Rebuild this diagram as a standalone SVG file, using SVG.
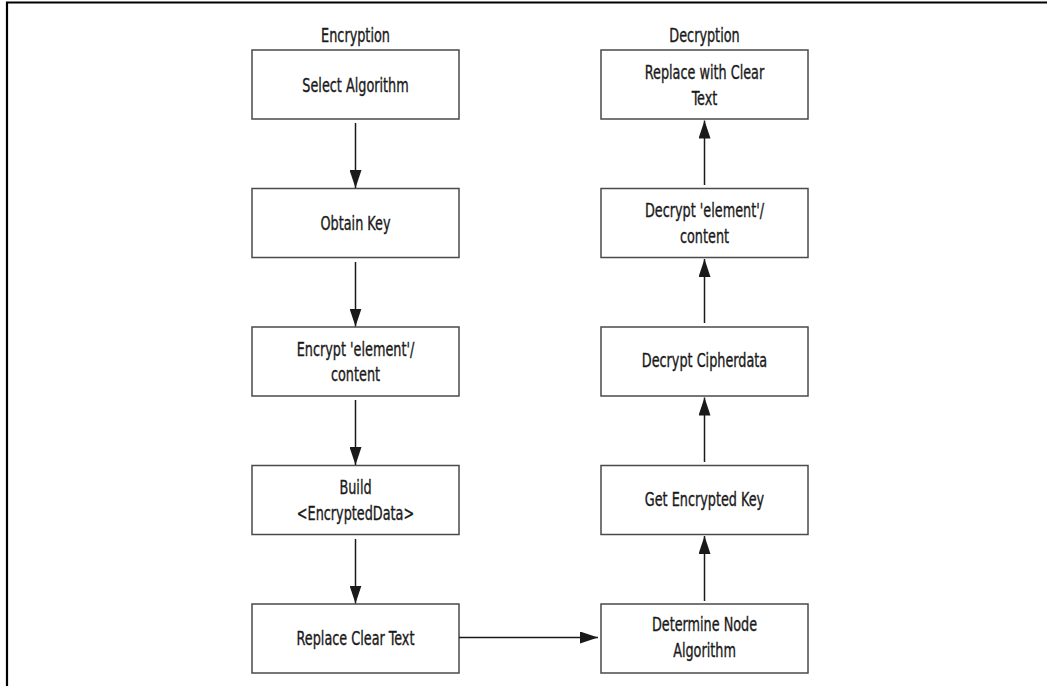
<svg xmlns="http://www.w3.org/2000/svg" width="1047" height="686" viewBox="0 0 1047 686">
  <style>
    .box { fill: #ffffff; stroke: #4a4a4a; stroke-width: 1.5; }
    .lbl { font-family: "DejaVu Sans Condensed", "Liberation Sans Narrow", "Liberation Sans", sans-serif; font-size: 19px; fill: #1a1a1a; text-anchor: middle; stroke: #1a1a1a; stroke-width: 0.35; }
    .edge { stroke: #1a1a1a; stroke-width: 1.5; fill: none; marker-end: url(#arrow); }
    .frame { stroke: #000000; stroke-width: 2.2; fill: none; }
  </style>
  <defs>
    <marker id="arrow" viewBox="0 0 18 12" refX="18" refY="6" markerWidth="18" markerHeight="12" markerUnits="userSpaceOnUse" orient="auto">
      <path d="M0,0 L18,6 L0,12 Z" fill="#1a1a1a"/>
    </marker>
  </defs>

  <!-- outer frame: top and left rules -->
  <path class="frame" d="M7,686 V2.5 H1047"/>

  <!-- column headings (labels are narrowed horizontally for a condensed face) -->
  <text class="lbl" transform="translate(355.5 41.5) scale(0.75 1)">Encryption</text>
  <text class="lbl" transform="translate(704.5 41.5) scale(0.75 1)">Decryption</text>

  <!-- encryption column -->
  <g id="select-algorithm">
    <rect class="box" x="252" y="50" width="207" height="69"/>
    <text class="lbl" transform="translate(355.5 91.5) scale(0.75 1)">Select Algorithm</text>
  </g>
  <g id="obtain-key">
    <rect class="box" x="252" y="188.5" width="207" height="69"/>
    <text class="lbl" transform="translate(355.5 230) scale(0.75 1)">Obtain Key</text>
  </g>
  <g id="encrypt-element">
    <rect class="box" x="252" y="327" width="207" height="69"/>
    <text class="lbl" transform="translate(355.5 356) scale(0.75 1)">Encrypt 'element'/</text>
    <text class="lbl" transform="translate(355.5 381) scale(0.75 1)">content</text>
  </g>
  <g id="build-encrypted-data">
    <rect class="box" x="252" y="465.5" width="207" height="69"/>
    <text class="lbl" transform="translate(355.5 493.5) scale(0.75 1)">Build</text>
    <text class="lbl" transform="translate(355.5 519.5) scale(0.75 1)">&lt;EncryptedData&gt;</text>
  </g>
  <g id="replace-clear-text">
    <rect class="box" x="252" y="604" width="207" height="69"/>
    <text class="lbl" transform="translate(355.5 645) scale(0.75 1)">Replace Clear Text</text>
  </g>

  <!-- decryption column -->
  <g id="replace-with-clear-text">
    <rect class="box" x="601" y="50" width="207" height="69"/>
    <text class="lbl" transform="translate(704.5 79) scale(0.75 1)">Replace with Clear</text>
    <text class="lbl" transform="translate(704.5 105) scale(0.75 1)">Text</text>
  </g>
  <g id="decrypt-element">
    <rect class="box" x="601" y="188.5" width="207" height="69"/>
    <text class="lbl" transform="translate(704.5 217) scale(0.75 1)">Decrypt 'element'/</text>
    <text class="lbl" transform="translate(704.5 243) scale(0.75 1)">content</text>
  </g>
  <g id="decrypt-cipherdata">
    <rect class="box" x="601" y="327" width="207" height="69"/>
    <text class="lbl" transform="translate(704.5 367) scale(0.75 1)">Decrypt Cipherdata</text>
  </g>
  <g id="get-encrypted-key">
    <rect class="box" x="601" y="465.5" width="207" height="69"/>
    <text class="lbl" transform="translate(704.5 506) scale(0.75 1)">Get Encrypted Key</text>
  </g>
  <g id="determine-node-algorithm">
    <rect class="box" x="601" y="604" width="207" height="69"/>
    <text class="lbl" transform="translate(704.5 631) scale(0.75 1)">Determine Node</text>
    <text class="lbl" transform="translate(704.5 657) scale(0.75 1)">Algorithm</text>
  </g>

  <!-- connectors -->
  <g id="connectors">
    <line class="edge" x1="355.5" y1="123" x2="355.5" y2="188"/>
    <line class="edge" x1="355.5" y1="262" x2="355.5" y2="326.5"/>
    <line class="edge" x1="355.5" y1="400" x2="355.5" y2="465"/>
    <line class="edge" x1="355.5" y1="539" x2="355.5" y2="603.5"/>
    <line class="edge" x1="459" y1="637.5" x2="598" y2="637.5"/>
    <line class="edge" x1="704.5" y1="601" x2="704.5" y2="536"/>
    <line class="edge" x1="704.5" y1="462" x2="704.5" y2="397.5"/>
    <line class="edge" x1="704.5" y1="323" x2="704.5" y2="259"/>
    <line class="edge" x1="704.5" y1="185" x2="704.5" y2="120.5"/>
  </g>
</svg>
